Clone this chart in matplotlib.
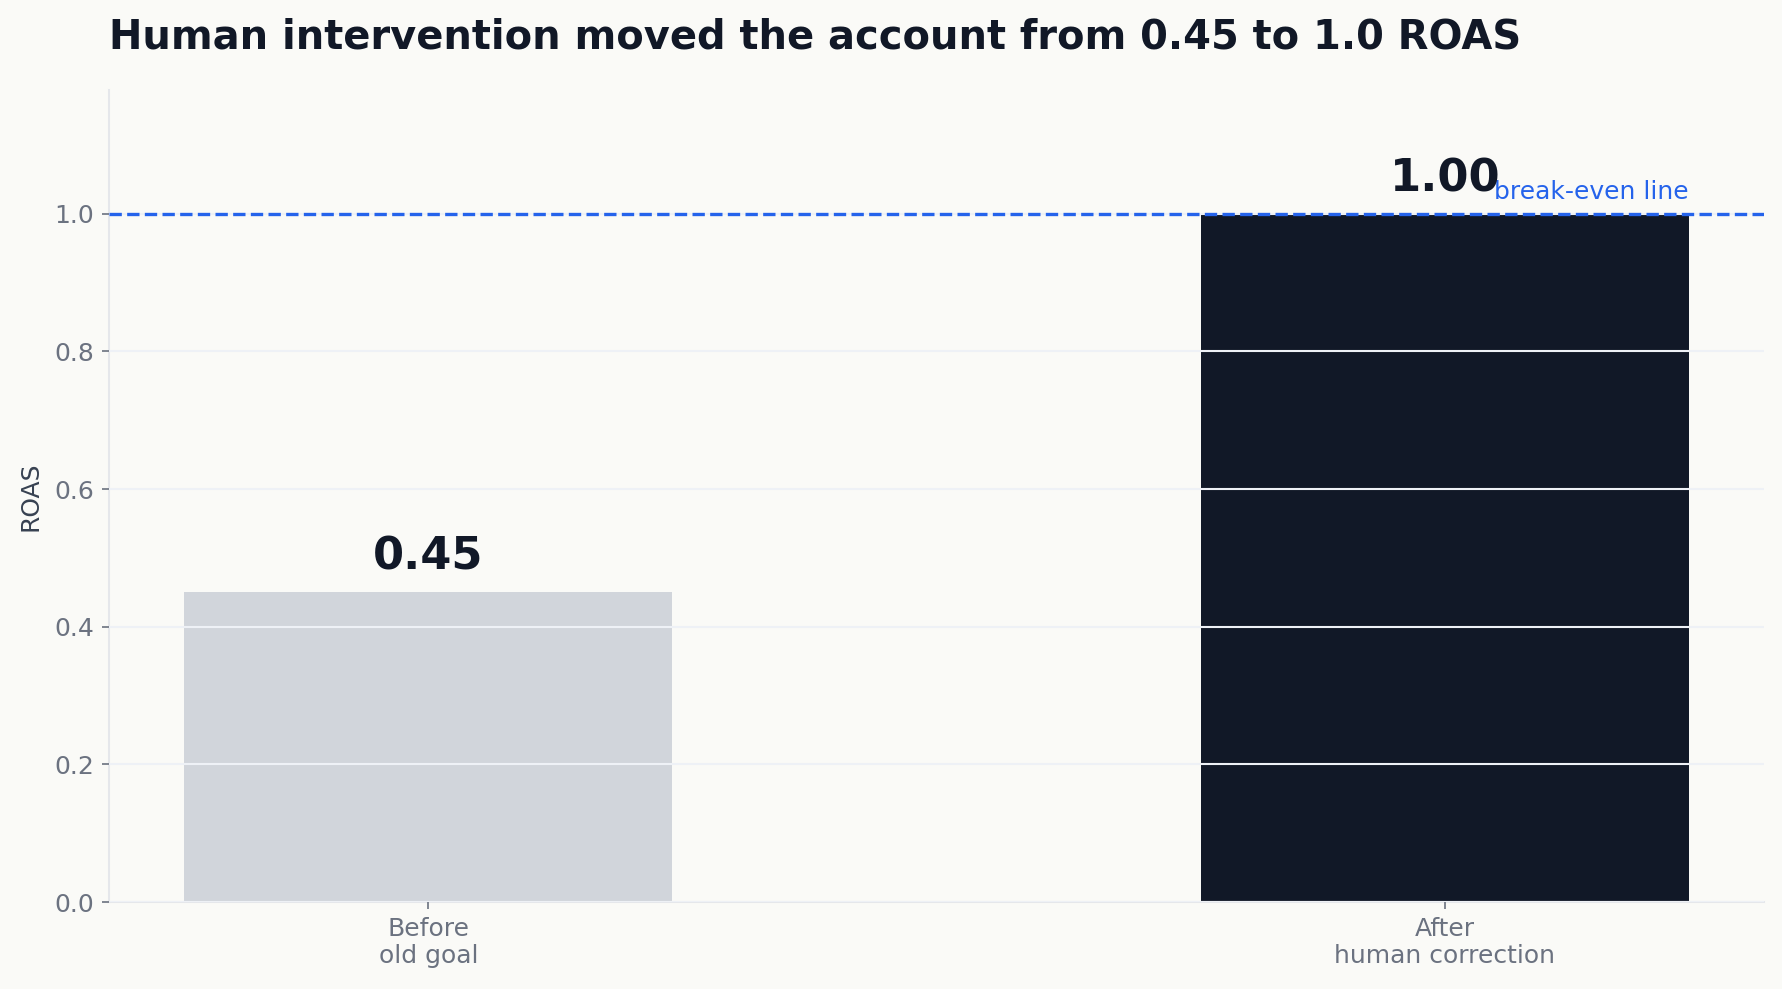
import matplotlib
matplotlib.use("Agg")
import matplotlib.pyplot as plt

# data
categories = ["Before\nold goal", "After\nhuman correction"]
roas = [0.45, 1.00]
bar_colors = ["#d1d5db", "#111827"]
breakeven = 1.0

BG = "#fafaf7"
INK = "#111827"
MUTED = "#6b7280"
BLUE = "#2563eb"

plt.rcParams["font.family"] = ["DejaVu Sans"]

fig = plt.figure(figsize=(11.88, 6.594), dpi=150, facecolor=BG)
ax = fig.add_axes([0.0612, 0.088, 0.9287, 0.821])
ax.set_facecolor(BG)

x = range(len(categories))
ax.bar(x, roas, width=0.48, color=bar_colors, zorder=1)

# grid over the bars, like the original
ax.set_axisbelow(False)
ax.yaxis.grid(True, color="#eef1f6", linewidth=1.0)
ax.xaxis.grid(False)

ax.axhline(breakeven, color=BLUE, linestyle="--", linewidth=1.6, zorder=3)
ax.text(len(categories) - 1 + 0.24, breakeven + 0.015, "break-even line",
        color=BLUE, fontsize=12, ha="right", va="bottom")

for i, v in enumerate(roas):
    ax.text(i, v + 0.02, f"{v:.2f}", ha="center", va="bottom",
            fontsize=21.5, fontweight="bold", color=INK, zorder=4)

ax.set_ylim(0, 1.18)
ax.set_xticks(list(x))
ax.set_xticklabels(categories)
ax.tick_params(axis="both", colors=MUTED, labelsize=12, labelcolor=MUTED)
ax.set_ylabel("ROAS", fontsize=12, color="#374151", labelpad=6)

for side in ["top", "right"]:
    ax.spines[side].set_visible(False)
for side in ["left", "bottom"]:
    ax.spines[side].set_color("#e5e7eb")
    ax.spines[side].set_linewidth(1.0)

ax.set_title("Human intervention moved the account from 0.45 to 1.0 ROAS",
             loc="left", fontsize=19.2, fontweight="bold", color=INK, pad=20)

fig.savefig("out.png", dpi=150, facecolor=BG)
